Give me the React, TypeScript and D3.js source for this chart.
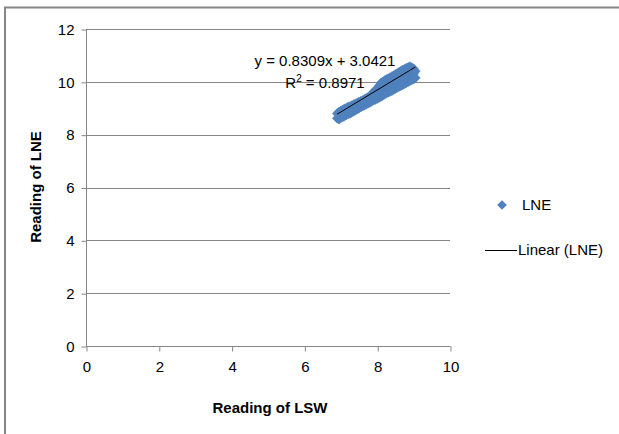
import React from "react";
import * as d3 from "d3";

// readings (LSW on x, LNE on y)
const lswReadings = [
  6.9, 6.9, 6.95, 6.95, 7.0, 7.0, 7.05, 7.05, 7.1, 7.1, 7.15, 7.15, 7.2, 7.2, 7.25, 7.25, 7.3, 7.3, 7.35, 7.35,
  7.4, 7.4, 7.45, 7.45, 7.5, 7.5, 7.55, 7.55, 7.6, 7.6, 7.65, 7.65, 7.7, 7.7, 7.75, 7.75, 7.8, 7.8, 7.85, 7.85,
  7.9, 7.9, 7.9, 7.95, 7.95, 8.0, 8.0, 8.0, 8.05, 8.05, 8.1, 8.1, 8.1, 8.15, 8.15, 8.2, 8.2, 8.2, 8.25, 8.25,
  8.3, 8.3, 8.3, 8.35, 8.35, 8.4, 8.4, 8.4, 8.45, 8.45, 8.5, 8.5, 8.5, 8.55, 8.55, 8.6, 8.6, 8.6, 8.65, 8.65,
  8.7, 8.7, 8.7, 8.75, 8.75, 8.8, 8.8, 8.8, 8.85, 8.85, 8.9, 8.9, 8.9, 8.95, 8.95, 9.0, 9.0, 9.0, 9.05, 9.05,
];
const lneReadings = [
  8.62, 8.8, 8.58, 8.86, 8.64, 8.9, 8.66, 8.94, 8.7, 8.98, 8.74, 9.01, 8.78, 9.05, 8.8, 9.07, 8.84, 9.1, 8.88, 9.14,
  8.92, 9.17, 8.96, 9.2, 9.0, 9.24, 9.04, 9.27, 9.08, 9.3, 9.11, 9.34, 9.15, 9.38, 9.18, 9.41, 9.22, 9.45, 9.26, 9.53,
  9.3, 9.46, 9.62, 9.33, 9.68, 9.36, 9.56, 9.75, 9.4, 9.85, 9.44, 9.7, 9.95, 9.48, 10.0, 9.52, 9.8, 10.05, 9.56, 10.09,
  9.6, 9.86, 10.12, 9.63, 10.16, 9.66, 9.93, 10.2, 9.7, 10.24, 9.74, 10.0, 10.28, 9.78, 10.32, 9.82, 10.08, 10.37, 9.85, 10.41,
  9.88, 10.15, 10.45, 9.92, 10.48, 9.96, 10.22, 10.52, 10.0, 10.55, 10.04, 10.3, 10.58, 10.07, 10.54, 10.1, 10.3, 10.5, 10.15, 10.4,
];
const xTicks = [0, 2, 4, 6, 8, 10];
const yTicks = [0, 2, 4, 6, 8, 10, 12];
const slope = 0.8309;
const intercept = 3.0421;
const rSquared = 0.8971;

const W = 619;
const H = 434;
const font = "'Liberation Sans', Arial, sans-serif";
const blue = "#4F81BD";
const grey = "#868686";

const App = () => {
  const ref = React.useRef<SVGSVGElement>(null);

  React.useEffect(() => {
    const svg = d3.select(ref.current);
    svg.selectAll("*").remove();

    const x = d3.scaleLinear().domain([0, 10]).range([86, 450]);
    const y = d3.scaleLinear().domain([0, 12]).range([346, 29]);

    // frame (only top and left edges show in the crop)
    svg.append("path").attr("d", "M5,434V7.5H619")
      .attr("fill", "none").attr("stroke", grey).attr("stroke-width", 2);

    // gridlines
    svg.append("g").selectAll("line").data(yTicks.filter(d => d > 0)).join("line")
      .attr("x1", x(0)).attr("x2", x(10))
      .attr("y1", d => Math.round(y(d)) + 0.5).attr("y2", d => Math.round(y(d)) + 0.5)
      .attr("stroke", grey).attr("stroke-width", 1);

    // y axis
    const yAxis = svg.append("g").attr("transform", `translate(${x(0) + 0.5},0.5)`)
      .call(d3.axisLeft(y).tickValues(yTicks).tickSize(5).tickPadding(7).tickFormat(d3.format("d")));
    yAxis.select(".domain").attr("stroke", grey).attr("d", `M0,${y(0)}V${y(12)}`);
    yAxis.selectAll(".tick line").attr("stroke", grey);
    yAxis.selectAll("text").attr("font-family", font).attr("font-size", 15).attr("fill", "#000");

    // x axis
    const xAxis = svg.append("g").attr("transform", `translate(0.5,${Math.round(y(0)) + 0.5})`)
      .call(d3.axisBottom(x).tickValues(xTicks).tickSize(5).tickPadding(10).tickFormat(d3.format("d")));
    xAxis.select(".domain").attr("stroke", grey).attr("d", `M${x(0)},0H${x(10)}`);
    xAxis.selectAll(".tick line").attr("stroke", grey);
    xAxis.selectAll("text").attr("font-family", font).attr("font-size", 15).attr("fill", "#000");

    // points
    const pts = lswReadings.map((v, i) => ({ x: v, y: lneReadings[i] }));
    const diamond = d3.symbol().type(d3.symbolDiamond2).size(60);
    svg.append("g").selectAll("path").data(pts).join("path")
      .attr("d", diamond)
      .attr("transform", d => `translate(${x(d.x)},${y(d.y)})`)
      .attr("fill", blue).attr("stroke", blue).attr("stroke-width", 0.5);

    // trend line
    const [x0, x1] = d3.extent(lswReadings) as [number, number];
    const line = d3.line<number>().x(d => x(d)).y(d => y(slope * d + intercept));
    svg.append("path").datum([x0, x1]).attr("d", line)
      .attr("fill", "none").attr("stroke", "#000").attr("stroke-width", 1);

    // equation label
    svg.append("text").attr("x", 325).attr("y", 66).attr("text-anchor", "middle")
      .attr("font-family", font).attr("font-size", 15)
      .text(`y = ${slope}x + ${intercept}`);
    const r2 = svg.append("text").attr("x", 325).attr("y", 88).attr("text-anchor", "middle")
      .attr("font-family", font).attr("font-size", 15);
    r2.append("tspan").text("R");
    r2.append("tspan").text("2").attr("font-size", 10).attr("dy", -6);
    r2.append("tspan").text(` = ${rSquared}`).attr("dy", 6);

    // axis titles
    svg.append("text").attr("x", 270).attr("y", 413).attr("text-anchor", "middle")
      .attr("font-family", font).attr("font-size", 15).attr("font-weight", "bold")
      .text("Reading of LSW");
    svg.append("text").attr("transform", `translate(41,187) rotate(-90)`).attr("text-anchor", "middle")
      .attr("font-family", font).attr("font-size", 15).attr("font-weight", "bold")
      .text("Reading of LNE");

    // legend
    const lg = svg.append("g");
    lg.append("path").attr("d", diamond).attr("transform", "translate(502,205)").attr("fill", blue);
    lg.append("text").attr("x", 522).attr("y", 210).attr("font-family", font).attr("font-size", 15).text("LNE");
    lg.append("line").attr("x1", 485).attr("x2", 517).attr("y1", 250.5).attr("y2", 250.5).attr("stroke", "#000");
    lg.append("text").attr("x", 518).attr("y", 255).attr("font-family", font).attr("font-size", 15).text("Linear (LNE)");
  }, []);

  return (
    <svg ref={ref} width={W} height={H} style={{ position: "absolute", left: 0, top: 0 }} />
  );
};

export default App;
